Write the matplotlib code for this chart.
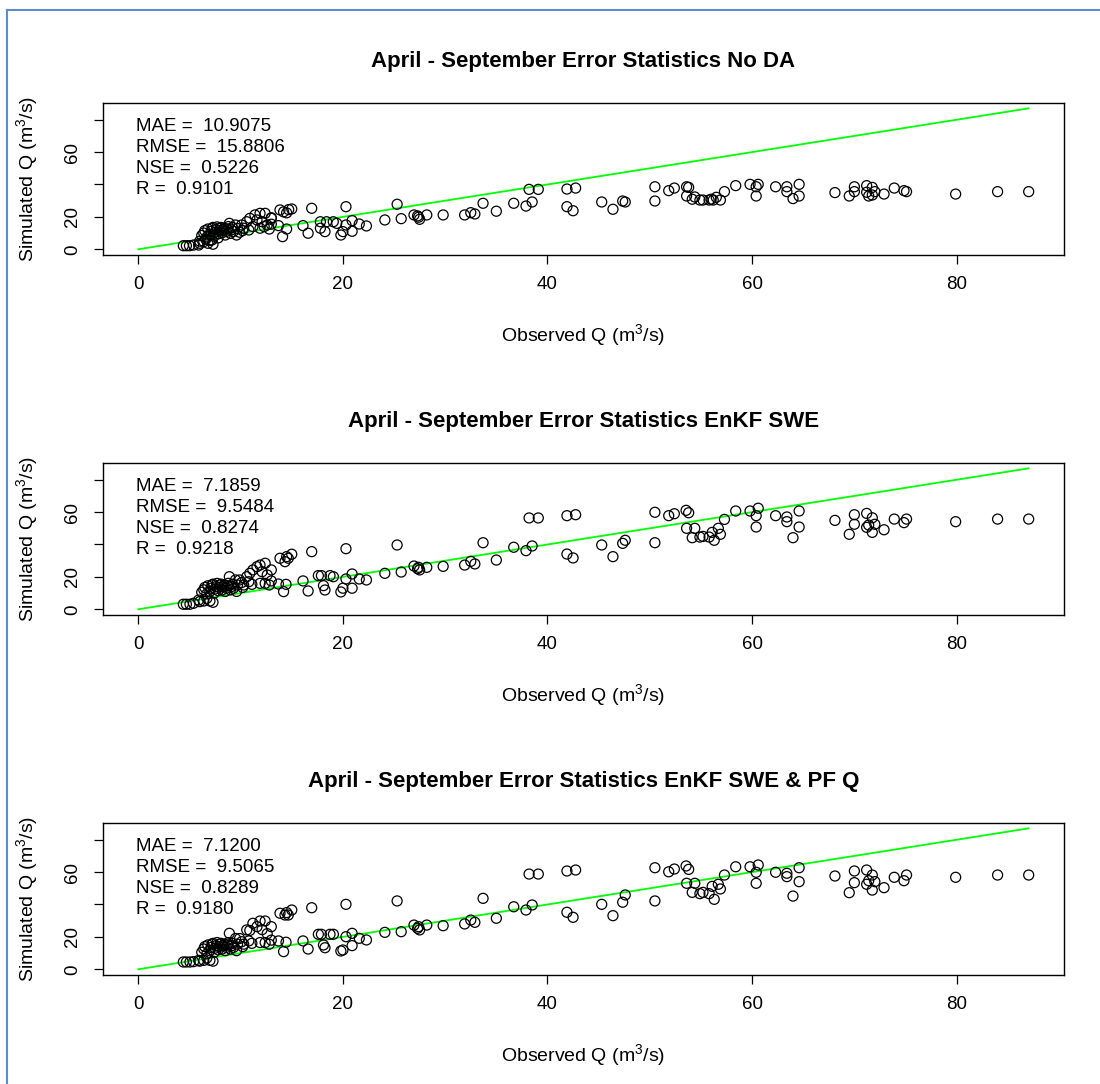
import matplotlib
matplotlib.use("Agg")
import matplotlib.pyplot as plt
from matplotlib.lines import Line2D

plt.rcParams['font.family'] = ['Liberation Sans', 'DejaVu Sans']
plt.rcParams['mathtext.fontset'] = 'custom'
plt.rcParams['mathtext.rm'] = 'Liberation Sans'

# ---- values ----
titles = ["April - September Error Statistics No DA",
          "April - September Error Statistics EnKF SWE",
          "April - September Error Statistics EnKF SWE & PF Q"]

stats_noda = ["10.9075", "15.8806", "0.5226", "0.9101"]
stats_swe = ["7.1859", "9.5484", "0.8274", "0.9218"]
stats_pf = ["7.1200", "9.5065", "0.8289", "0.9180"]
stat_names = ["MAE", "RMSE", "NSE", "R"]

obs_noda = [
    4.4, 4.7, 5.0, 5.4, 5.9, 6.0, 6.4, 6.8, 7.2, 7.3, 6.0, 6.6, 7.0, 7.8,
    6.2, 6.4, 6.5, 6.7, 6.8, 7.0, 7.1, 7.2, 7.3, 7.4,
    7.5, 7.6, 7.7, 7.8, 7.9, 8.0, 8.1, 8.2, 8.3, 8.4,
    8.5, 8.6, 8.7, 8.8, 8.9, 9.0, 9.1, 9.2, 9.3, 9.5,
    9.6, 9.7, 9.9, 10.1, 10.2, 10.3, 10.6, 10.8, 10.9, 11.2,
    11.4, 11.6, 11.9, 11.9, 12.1, 12.3, 12.4, 12.6, 12.8, 13.0,
    13.0,
    13.0, 13.7, 13.85, 14.2, 14.5, 14.7, 15.0, 14.1, 14.5, 16.1,
    16.6, 16.95, 17.8, 17.8, 18.25, 18.4, 19.06, 19.4,
    19.8, 20.0, 20.3, 20.3, 20.9, 20.9, 21.6, 22.3, 24.1, 25.3,
    25.7, 26.95, 27.3, 27.4, 27.5, 28.2, 29.8, 31.9, 32.5, 32.9,
    33.7, 35.0, 36.7, 37.9, 38.5, 38.2, 39.1, 41.9, 42.75, 41.9,
    42.5, 45.3, 46.4, 47.35, 47.6, 50.5, 50.5, 51.85, 52.4, 53.6,
    53.8, 53.6, 54.15, 54.4, 54.9, 55.2, 55.8, 56.0, 56.2, 56.5,
    56.9, 57.3, 58.4, 59.8, 60.4, 60.6, 60.4, 62.3, 63.4, 63.4,
    64.6, 64.0, 64.6, 68.1, 69.5, 70.0, 70.0, 71.2, 71.2, 71.4,
    71.75, 71.75, 72.0, 72.9, 73.9, 74.85, 75.1, 79.9, 84.0, 87.04,
]
sim_noda = [
    2.2, 2.2, 2.2, 2.6, 2.6, 3.7, 4.7, 3.7, 5.7, 3.1, 5.0, 6.2, 5.5, 7.0,
    8.5, 10.0, 11.5, 7.5, 12.5, 9.0, 11.0, 12.8, 13.5, 8.0,
    10.5, 12.0, 13.8, 9.5, 11.5, 12.8, 13.5, 10.2, 12.0, 13.0,
    8.8, 11.0, 12.5, 14.0, 16.0, 9.8, 12.0, 13.5, 11.0, 15.0,
    8.8, 12.8, 10.5, 15.0, 11.5, 13.0, 17.0, 11.9, 19.1, 14.0,
    21.2, 18.1, 22.2, 13.0, 17.0, 14.0, 22.2, 15.0, 12.5, 19.1,
    15.5,
    19.5, 14.6, 24.3, 23.1, 22.5, 24.5, 24.9, 7.8, 12.5, 14.6,
    9.9, 25.3, 13.0, 17.0, 10.9, 17.0, 17.0, 16.0,
    8.8, 10.9, 26.3, 15.0, 17.7, 11.1, 15.6, 14.4, 18.1, 27.8,
    18.9, 21.2, 20.6, 19.8, 18.5, 21.2, 21.2, 21.2, 22.6, 21.8,
    28.4, 23.5, 28.4, 26.7, 29.2, 37.0, 37.0, 37.2, 37.8, 26.3,
    23.8, 29.2, 24.7, 29.8, 29.2, 38.6, 29.8, 36.2, 37.8, 38.6,
    38.2, 32.9, 30.9, 32.3, 30.4, 30.4, 30.4, 30.9, 30.4, 32.1,
    30.4, 35.6, 39.3, 40.1, 38.6, 40.1, 32.9, 38.6, 38.6, 35.6,
    40.1, 31.3, 32.9, 35.0, 32.9, 38.6, 35.6, 39.3, 35.2, 32.9,
    38.2, 33.5, 35.6, 34.1, 37.8, 36.2, 35.6, 34.1, 35.6, 35.6,
]

# observed flows are shared by the two data-assimilation runs
obs_da = [
    4.4, 4.7, 5.05, 5.4, 5.9, 6.0, 6.4, 6.7, 7.0, 7.3,
    6.2, 6.4, 6.5, 6.7, 6.8, 7.0, 7.1, 7.2, 7.3, 7.4,
    7.5, 7.6, 7.7, 7.8, 7.9, 8.0, 8.1, 8.2, 8.3, 8.4,
    8.5, 8.6, 8.7, 8.8, 8.9, 9.0, 9.1, 9.2, 9.3, 9.5,
    9.6, 9.7, 9.9, 10.1, 10.2, 10.3, 10.6, 10.8, 10.9, 11.1,
    11.2, 11.6, 11.9, 11.9, 12.1, 12.4, 12.4, 12.6, 12.8, 13.0,
    13.0,
    13.7, 13.85, 14.2, 14.34, 14.44, 14.5, 14.66, 15.0, 16.1, 16.6,
    16.95, 17.6, 17.9, 18.1, 18.25, 18.74, 19.07,
    19.8, 20.0, 20.3, 20.3, 20.9, 20.9, 21.6, 22.3, 24.1, 25.3,
    25.7, 26.95, 27.3, 27.4, 27.5, 28.2, 29.8, 31.9, 32.5, 32.9,
    33.7, 35.0, 36.7, 37.9, 38.5, 38.2, 39.1, 41.9, 42.75, 41.9,
    42.5, 45.3, 46.4, 47.35, 47.6, 50.5, 50.5, 51.85, 52.4, 53.55,
    53.8, 53.6, 54.4, 54.15, 54.9, 55.2, 55.8, 56.1, 56.3, 56.7,
    56.9, 57.3, 58.4, 59.8, 60.4, 60.6, 60.4, 62.3, 63.4, 63.4,
    64.6, 64.0, 64.6, 68.1, 69.5, 70.0, 70.0, 71.2, 71.2, 71.4,
    71.75, 71.75, 72.0, 72.9, 73.9, 74.85, 75.1, 79.9, 84.0, 87.04,
]
sim_swe = [
    3.1, 3.1, 3.1, 3.7, 5.7, 4.7, 5.1, 6.8, 5.1, 4.3,
    10.5, 12.0, 13.5, 9.5, 14.5, 11.0, 13.0, 15.0, 15.5, 10.0,
    12.5, 14.0, 16.0, 11.5, 13.5, 15.0, 15.5, 12.0, 14.0, 15.0,
    11.0, 13.0, 14.5, 16.0, 20.1, 12.0, 14.0, 15.5, 13.0, 18.1,
    11.0, 15.0, 18.1, 16.5, 13.5, 15.0, 20.1, 17.0, 22.2, 15.4,
    24.3, 26.3, 27.3, 16.0, 23.2, 28.4, 16.0, 21.2, 15.0, 24.3,
    17.5,
    15.6, 31.5, 10.9, 29.4, 15.4, 32.5, 31.5, 34.0, 17.5, 11.3,
    35.6, 20.8, 20.8, 14.6, 11.9, 20.8, 20.1,
    10.7, 13.0, 37.4, 18.7, 21.8, 13.0, 18.7, 18.1, 22.2, 39.7,
    23.0, 26.7, 25.1, 25.9, 24.3, 25.9, 26.5, 27.3, 29.6, 28.0,
    41.1, 30.4, 38.3, 36.2, 39.1, 56.4, 56.4, 57.8, 58.4, 34.1,
    31.7, 39.7, 32.5, 40.7, 42.6, 59.9, 41.1, 57.8, 59.0, 61.1,
    59.6, 50.0, 50.0, 44.2, 44.6, 45.0, 44.6, 47.5, 42.6, 50.0,
    46.3, 55.5, 60.7, 60.7, 57.8, 62.4, 50.8, 57.8, 57.0, 54.1,
    60.7, 44.2, 50.8, 54.9, 46.3, 58.4, 52.5, 59.2, 50.6, 52.0,
    56.5, 47.5, 52.5, 49.1, 55.7, 53.5, 55.7, 54.1, 55.7, 55.7,
]
sim_pf = [
    4.5, 4.5, 4.5, 4.7, 5.5, 5.0, 5.5, 7.0, 5.5, 5.0,
    10.5, 12.5, 14.0, 9.5, 15.0, 11.5, 13.5, 15.5, 16.0, 10.5,
    13.0, 14.5, 16.5, 12.0, 14.0, 15.5, 16.0, 12.5, 14.5, 15.5,
    11.5, 13.5, 15.0, 16.5, 22.2, 12.5, 14.5, 16.0, 13.5, 19.0,
    11.5, 15.5, 19.0, 17.0, 14.0, 15.5, 24.3, 17.5, 24.0, 16.0,
    28.4, 26.3, 29.8, 16.5, 24.5, 29.8, 16.5, 22.0, 15.5, 26.3,
    18.0,
    17.5, 34.6, 10.9, 33.5, 16.7, 35.0, 33.5, 36.6, 17.5, 12.5,
    38.0, 21.6, 21.6, 15.0, 13.3, 21.6, 21.6,
    11.3, 11.9, 40.1, 20.1, 22.2, 14.6, 19.1, 18.1, 22.8, 42.2,
    23.2, 27.3, 25.3, 26.3, 24.3, 27.3, 26.9, 28.0, 30.4, 29.0,
    43.8, 31.5, 38.6, 36.6, 39.7, 58.8, 58.8, 60.7, 61.3, 35.2,
    32.1, 40.1, 33.1, 41.4, 45.9, 62.7, 42.2, 60.2, 61.9, 63.8,
    61.7, 53.1, 53.1, 47.5, 46.7, 47.5, 46.7, 51.2, 43.2, 52.5,
    49.6, 58.2, 63.3, 63.3, 59.9, 64.4, 53.1, 59.9, 59.3, 57.2,
    62.7, 45.2, 54.1, 57.6, 47.3, 60.7, 53.5, 61.3, 52.5, 54.7,
    58.2, 48.9, 54.1, 50.4, 56.8, 54.7, 58.2, 56.8, 58.2, 58.2,
]

xticks = [0, 20, 40, 60, 80]
yticklabels = ["0", "20", "", "60", ""]

W, H = 1100, 1084
fig = plt.figure(figsize=(W / 100, H / 100), dpi=100)

# screenshot frame (light blue lines on top and left)
frame_col = "#5b8bd0"
fig.add_artist(Line2D([7 / W, 1], [1 - 10 / H, 1 - 10 / H], color=frame_col, lw=1.5))
fig.add_artist(Line2D([7 / W, 7 / W], [0, 1 - 10 / H], color=frame_col, lw=1.5))

ax_left, ax_w = 102.7 / W, 961.6 / W
ax_h = 152.2 / H
ax_bottoms = [1 - 254.9 / H, 1 - 614.9 / H, 1 - 974.9 / H]


def draw_panel(ax, obs, sim, title, stats):
    hi = max(obs)
    pad = 0.04 * hi
    ax.scatter(obs, sim, s=52, facecolors="none", edgecolors="black", linewidths=0.9, zorder=3)
    ax.plot([0, hi], [0, hi], color="#00ff00", lw=1.3, zorder=2)
    ax.set_xlim(-pad, hi + pad)
    ax.set_ylim(-pad, hi + pad)

    ax.set_xticks(xticks)
    ax.set_yticks(xticks)
    ax.set_yticklabels(yticklabels)
    ax.tick_params(direction="out", length=6.5, width=0.9, labelsize=13.5)
    ax.tick_params(axis="x", pad=9)
    ax.tick_params(axis="y", labelrotation=90, pad=9)
    for lab in ax.get_yticklabels():
        lab.set_va("center")
    for sp in ax.spines.values():
        sp.set_linewidth(1.0)

    ax.text(0.5, 1 + 41 / 152.2, title, transform=ax.transAxes, ha="center",
            va="center", fontsize=16, fontweight="bold")

    ax.set_xlabel(r"Observed Q (m$^\mathrm{3}$/s)", fontsize=14)
    ax.xaxis.set_label_coords(0.5, -81 / 152.2)
    ax.xaxis.label.set_va("center")
    ax.set_ylabel(r"Simulated Q (m$^\mathrm{3}$/s)", fontsize=14)
    ax.yaxis.set_label_coords(-75 / 961.6, 0.5)
    ax.yaxis.label.set_va("center")

    for i, (name, val) in enumerate(zip(stat_names, stats)):
        ax.text(33 / 961.6, 1 - (24 + 20.8 * i) / 152.2, f"{name} =  {val}",
                transform=ax.transAxes, ha="left", va="center", fontsize=13.5)


panels = [(obs_noda, sim_noda, titles[0], stats_noda),
          (obs_da, sim_swe, titles[1], stats_swe),
          (obs_da, sim_pf, titles[2], stats_pf)]

for bottom, (obs, sim, title, stats) in zip(ax_bottoms, panels):
    ax = fig.add_axes([ax_left, bottom, ax_w, ax_h])
    draw_panel(ax, obs, sim, title, stats)

fig.savefig("out.png", dpi=100)
